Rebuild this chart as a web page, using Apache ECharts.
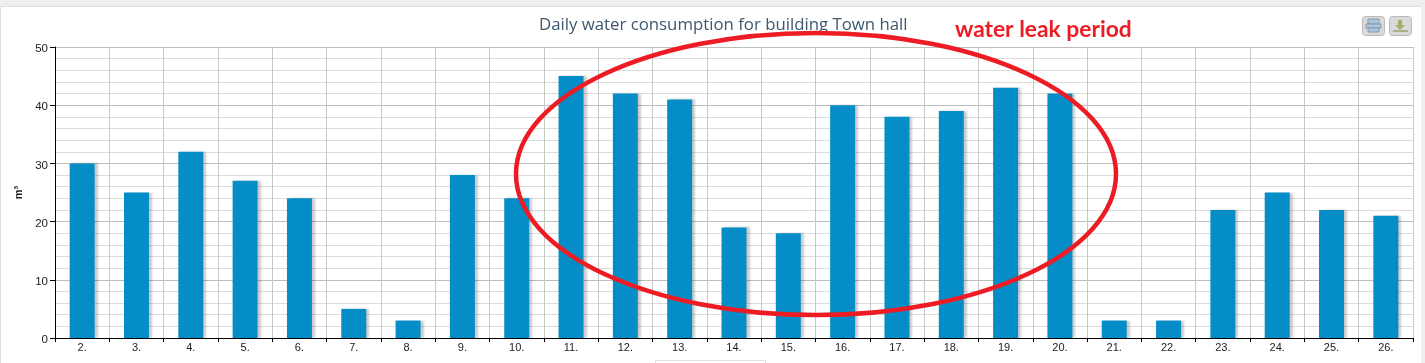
<!DOCTYPE html>
<html><head><meta charset="utf-8">
<style>html,body{margin:0;padding:0;background:#fff}#c{width:1425px;height:363px}</style>
<script src="https://cdn.jsdelivr.net/npm/echarts@6/dist/echarts.min.js"></script>
</head><body><div id="c"></div>
<script>
const categories=['2.','3.','4.','5.','6.','7.','8.','9.','10.','11.','12.','13.','14.','15.','16.','17.','18.','19.','20.','21.','22.','23.','24.','25.','26.'];
const consumption=[30,25,32,27,24,5,3,28,24,45,42,41,19,18,40,38,39,43,42,3,3,22,25,22,21];
const titleText='Daily water consumption for building Town hall';
const noteText='water leak period';
const yUnit='m³';
const chart=echarts.init(document.getElementById('c'),null,{renderer:'canvas'});
function btn(x,icon){
  return {type:'group',x:x,y:16,z:20,children:[
    {type:'rect',shape:{x:0.5,y:0.5,width:22,height:19,r:3},style:{fill:'#dadada',stroke:'#bbbbbb',lineWidth:1}},
    ...icon]};
}
chart.setOption({
  animation:false,
  backgroundColor:'#fff',
  title:{text:titleText,left:534,top:12,textStyle:{fontFamily:'Open Sans',fontSize:16.8,fontWeight:'normal',color:'#3E576F'}},
  grid:{left:55,right:12,top:47,bottom:25,containLabel:false},
  xAxis:{type:'category',data:categories,
    axisLine:{lineStyle:{color:'#000',width:1}},
    axisTick:{show:true,length:4,lineStyle:{color:'#000'}},
    axisLabel:{color:'#222',fontFamily:'Liberation Sans',fontSize:11,margin:4,interval:0},
    splitLine:{show:true,interval:0,lineStyle:{color:'#c8c8c8',width:1}}},
  yAxis:{type:'value',min:0,max:50,interval:10,
    name:yUnit,nameLocation:'middle',nameGap:29,
    nameTextStyle:{fontFamily:'Liberation Sans',fontWeight:'bold',fontSize:11,color:'#222'},
    axisLine:{show:true,lineStyle:{color:'#000',width:1}},
    axisTick:{show:true,length:5,lineStyle:{color:'#000'}},
    axisLabel:{color:'#222',fontFamily:'Liberation Sans',fontSize:11.5,margin:7,verticalAlign:'top',lineHeight:4},
    splitLine:{show:true,lineStyle:{color:'#bdbdbd',width:1}},
    minorTick:{show:false,splitNumber:5},
    minorSplitLine:{show:true,lineStyle:{color:'#dcdcdc',width:1}}},
  series:[{type:'bar',data:consumption,barWidth:25,
    itemStyle:{color:'#058DC7',borderWidth:0,shadowColor:'rgba(0,0,0,0.2)',shadowBlur:2,shadowOffsetX:3,shadowOffsetY:0}}],
  graphic:[
    {type:'rect',z:-1,silent:true,shape:{x:0,y:0,width:1425,height:6},style:{fill:'#efefef'}},
    {type:'rect',z:-1,silent:true,shape:{x:0,y:6,width:1425,height:1},style:{fill:'#e0e0e0'}},
    {type:'rect',z:-1,silent:true,shape:{x:0,y:6,width:1,height:357},style:{fill:'#e0e0e0'}},
    {type:'rect',z:-1,silent:true,shape:{x:1421,y:0,width:4,height:363},style:{fill:'#efefef'}},
    {type:'rect',z:-1,silent:true,shape:{x:655.5,y:360.5,width:110,height:6},style:{fill:'#fff',stroke:'#e0e0e0',lineWidth:1}},
    {type:'ellipse',z:30,silent:true,shape:{cx:816,cy:174,rx:300,ry:141},style:{fill:'transparent',stroke:'#ED1C24',lineWidth:4.5}},
    {type:'text',z:31,silent:true,x:955,y:18,style:{text:noteText,fill:'#ED1C24',fontFamily:'Lato',fontWeight:'bold',fontSize:22.8}},
    btn(1362,[
      {type:'rect',shape:{x:6,y:3,width:11,height:5},style:{fill:'#a9c6e0',stroke:'#8a97a5'}},
      {type:'rect',shape:{x:4,y:8,width:15,height:4},style:{fill:'#a9c6e0',stroke:'#8a97a5'}},
      {type:'rect',shape:{x:6,y:12,width:11,height:4},style:{fill:'#a9c6e0',stroke:'#8a97a5'}}]),
    btn(1389,[
      {type:'rect',shape:{x:9,y:4,width:4,height:6},style:{fill:'#9db36a'}},
      {type:'polygon',shape:{points:[[6,9],[16,9],[11,14]]},style:{fill:'#9db36a'}},
      {type:'rect',shape:{x:4,y:14,width:15,height:2},style:{fill:'#aab08c'}}])
  ]
});
</script></body></html>
